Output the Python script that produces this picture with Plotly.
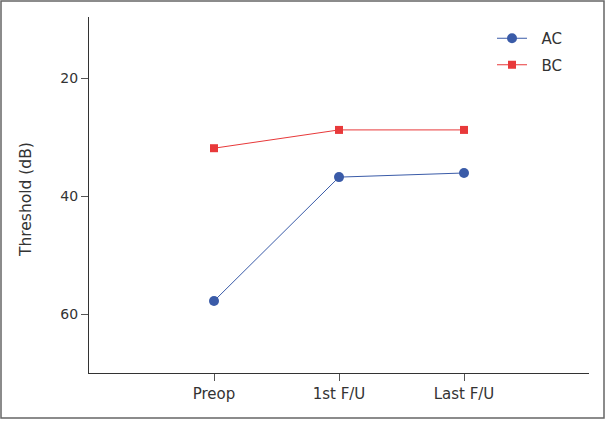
import plotly.graph_objects as go

categories = ["Preop", "1st F/U", "Last F/U"]
ac_values = [57.8, 36.8, 36.1]
bc_values = [31.9, 28.8, 28.8]
y_ticks = [20, 40, 60]

NB = "\u00a0\u00a0"

fig = go.Figure()
fig.add_trace(go.Scatter(
    x=list(range(len(categories))), y=ac_values, name=NB + "AC", mode="lines+markers",
    line=dict(color="#3a5ba8", width=1), marker=dict(symbol="circle", size=10, color="#3a5ba8"),
    legendgroup="ac"))
fig.add_trace(go.Scatter(
    x=list(range(len(categories))), y=bc_values, name=NB + "BC", mode="lines+markers",
    line=dict(color="#e8393a", width=1), marker=dict(symbol="square", size=8, color="#e8393a"),
    legendgroup="bc"))

L, R, T, B = 89, 17, 17, 48
W, H = 606, 421
pw, ph = W - L - R, H - T - B

def px_x(p):
    return (p - L) / pw

def px_y(p):
    return (H - B - p) / ph

FONT = "DejaVu Sans, sans-serif"

fig.update_layout(
    width=W, height=H,
    margin=dict(l=L, r=R, t=T, b=B),
    paper_bgcolor="white", plot_bgcolor="white",
    font=dict(family=FONT, size=14, color="#333"),
    showlegend=True,
    legend=dict(x=px_x(492), y=px_y(22), xanchor="left", yanchor="top",
                bgcolor="rgba(0,0,0,0)", font=dict(size=15, color="#333"),
                traceorder="grouped", tracegroupgap=4),
    xaxis=dict(range=[-1, 3], tickmode="array", tickvals=list(range(len(categories))),
               ticktext=categories, showgrid=False, zeroline=False,
               showline=True, linecolor="#333", linewidth=1,
               ticks="outside", ticklen=7, tickcolor="#555", tickwidth=1,
               tickfont=dict(size=15)),
    yaxis=dict(range=[70, 9.66], tickmode="array", tickvals=y_ticks, showgrid=False, zeroline=False,
               showline=True, linecolor="#333", linewidth=1,
               ticks="outside", ticklen=7, tickcolor="#555", tickwidth=1,
               tickfont=dict(size=14)),
    annotations=[dict(text="Threshold (dB)", textangle=-90, xref="paper", yref="paper",
                      x=px_x(26), y=px_y(200), showarrow=False, xanchor="center", yanchor="middle",
                      font=dict(size=15.5, color="#333"))],
    shapes=[dict(type="rect", xref="paper", yref="paper",
                 x0=px_x(1), x1=px_x(604), y0=px_y(418), y1=px_y(1),
                 line=dict(color="#666", width=1.5), fillcolor="rgba(0,0,0,0)", layer="below")],
)

fig.write_html("out.html")
